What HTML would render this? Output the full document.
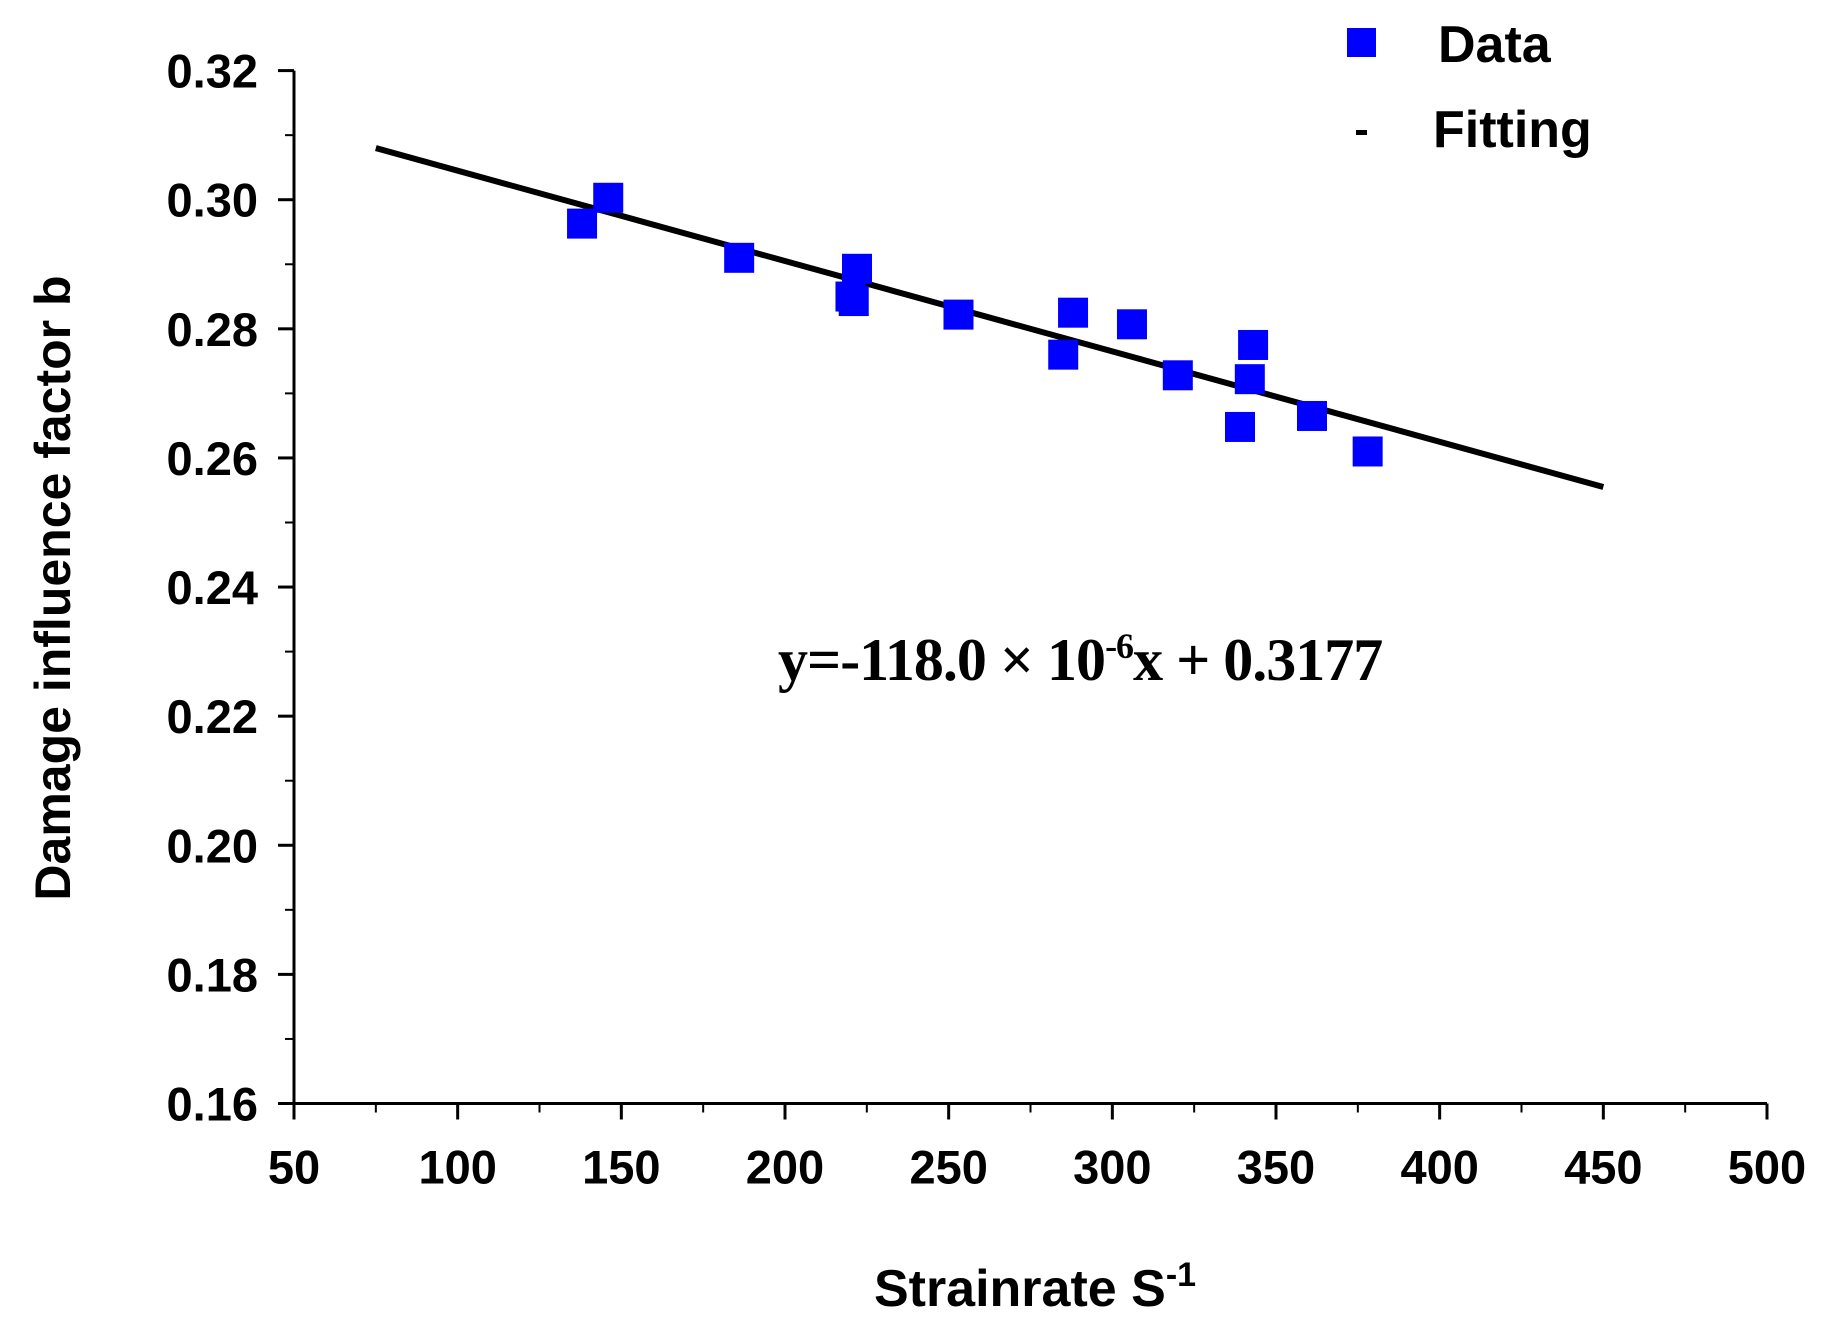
<!DOCTYPE html>
<html><head><meta charset="utf-8"><style>
html,body{margin:0;padding:0;background:#fff;}
svg text{font-family:"Liberation Sans",sans-serif;font-weight:bold;fill:#000;}
</style></head><body>
<svg id="chart" width="1833" height="1327" xmlns="http://www.w3.org/2000/svg">
<g id="axes"></g>
<g id="marks"></g>
<text x="778" y="680" style="font-family:'Liberation Serif',serif;font-weight:bold;font-size:60px;letter-spacing:-1px">y=-118.0 × 10<tspan dy="-22" font-size="36">-6</tspan><tspan dy="22">x + 0.3177</tspan></text>
<rect x="1347" y="28" width="29" height="29" fill="#0000ff"/>
<text x="1438" y="62" font-size="52">Data</text>
<rect x="1356" y="130" width="11" height="5" fill="#000"/>
<text x="1433" y="147" font-size="52">Fitting</text>
<text transform="translate(70,588) rotate(-90)" text-anchor="middle" font-size="50">Damage influence factor b</text>
<text x="1035" y="1306" text-anchor="middle" font-size="52">Strainrate S<tspan dy="-20" font-size="34">-1</tspan></text>
</svg>
<script>
const xData=[138,146,186,220,221,222,253,285,288,306,320,339,342,343,361,378];
const yData=[0.2963,0.3003,0.2910,0.2850,0.2843,0.2893,0.2822,0.2760,0.2825,0.2807,0.2728,0.2648,0.2722,0.2775,0.2665,0.2610];
const fitSlope=-140e-6;
const fitIntercept=0.3185;
const fitRange=[75,450];
const xTicks=[50,100,150,200,250,300,350,400,450,500];
const yTicks=[0.16,0.18,0.20,0.22,0.24,0.26,0.28,0.30,0.32];
const NS="http://www.w3.org/2000/svg";
const X0=294,X1=1767,Y0=1103.5,Y1=70.6;
function sx(v){return X0+(v-50)/(500-50)*(X1-X0);}
function sy(v){return Y0-(v-0.16)/(0.32-0.16)*(Y0-Y1);}
function mk(tag,attrs,parent){const e=document.createElementNS(NS,tag);for(const k in attrs)e.setAttribute(k,attrs[k]);parent.appendChild(e);return e;}
const axes=document.getElementById('axes');
const marks=document.getElementById('marks');
let a=mk('line',{x1:X0,y1:Y0,x2:X1,y2:Y0,stroke:'#000','stroke-width':3},axes);


a=mk('line',{x1:X0,y1:Y0,x2:X0,y2:Y1,stroke:'#000','stroke-width':3},axes);


xTicks.forEach((t,i)=>{
  const x=sx(t);
  mk('line',{x1:x,y1:Y0,x2:x,y2:Y0+16,stroke:'#000','stroke-width':3},axes);
  if(i<xTicks.length-1){mk('line',{x1:sx(t+25),y1:Y0,x2:sx(t+25),y2:Y0+9,stroke:'#000','stroke-width':2},axes);}
  const tx=mk('text',{x:x,y:Y0+80,'text-anchor':'middle','font-size':47},axes);
  tx.textContent=String(t);
  
  
});
yTicks.forEach((t,i)=>{
  const y=sy(t);
  mk('line',{x1:X0,y1:y,x2:X0-16,y2:y,stroke:'#000','stroke-width':3},axes);
  if(i<yTicks.length-1){mk('line',{x1:X0,y1:sy(t+0.01),x2:X0-9,y2:sy(t+0.01),stroke:'#000','stroke-width':2},axes);}
  const tx=mk('text',{x:X0-36,y:y+17,'text-anchor':'end','font-size':47},axes);
  tx.textContent=t.toFixed(2);
  
  
});
const fl=mk('line',{x1:sx(fitRange[0]),y1:sy(fitIntercept+fitSlope*fitRange[0]),x2:sx(fitRange[1]),y2:sy(fitIntercept+fitSlope*fitRange[1]),stroke:'#000','stroke-width':6},marks);


xData.forEach((xv,i)=>{
  const r=mk('rect',{x:sx(xv)-15,y:sy(yData[i])-15,width:30,height:30,fill:'#0000ff'},marks);
  
  
});
</script>
</body></html>
